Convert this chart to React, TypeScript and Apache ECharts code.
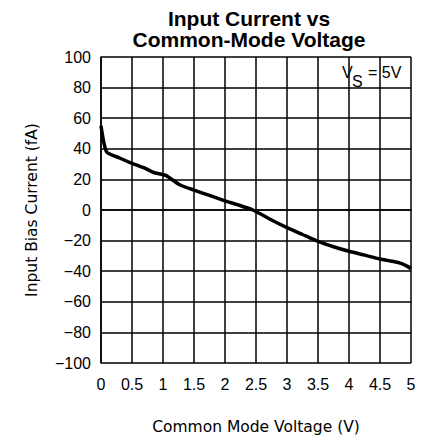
import React, { useEffect, useRef } from "react";
import * as echarts from "echarts";

const titleLines = ["Input Current vs", "Common-Mode Voltage"];
const xAxisName = "Common Mode Voltage (V)";
const yAxisName = "Input Bias Current (fA)";
const xMin = 0;
const xMax = 5;
const xStep = 0.5;
const yMin = -100;
const yMax = 100;
const yStep = 20;

const voltage = [0, 0.09, 0.3, 0.5, 0.7, 0.85, 1.05, 1.27, 1.5, 1.75, 2.0, 2.2, 2.45, 2.75, 3.0, 3.25, 3.5, 3.75, 4.0, 4.25, 4.5, 4.7, 4.85, 4.95, 5.0];
const biasCurrent = [55, 38, 34, 30.5, 27.5, 24.5, 22.5, 16.5, 13, 9.5, 6, 3.5, 0, -6.5, -11.5, -16, -20.5, -24, -27, -29.5, -32, -33.5, -35, -37, -38.5];

const annotationMain = "V";
const annotationSub = "S";
const annotationRest = "= 5V";

export default function App() {
  const ref = useRef<HTMLDivElement>(null);
  useEffect(() => {
    if (!ref.current) return;
    const chart = echarts.init(ref.current, undefined, { renderer: "svg" });
    const tickFont = "'Liberation Sans', Arial, sans-serif";
    const nameFont = "'DejaVu Sans', sans-serif";
    const halo = { fill: "#000", stroke: "#fff", lineWidth: 4, font: `16px ${tickFont}` };
    chart.setOption({
      animation: false,
      backgroundColor: "#fff",
      title: {
        text: titleLines.join("\n"),
        left: 244,
        textAlign: "center",
        top: 3,
        textStyle: {
          fontFamily: tickFont,
          fontWeight: "bold",
          fontSize: 21,
          lineHeight: 21,
          color: "#000",
        },
      },
      grid: { left: 101, right: 11, top: 57, bottom: 73, containLabel: false },
      xAxis: {
        type: "value",
        min: xMin,
        max: xMax,
        interval: xStep,
        name: xAxisName,
        nameLocation: "middle",
        nameGap: 56,
        nameTextStyle: { fontFamily: nameFont, fontSize: 15.5, color: "#000" },
        axisLine: { show: true, lineStyle: { color: "#000", width: 1.5 } },
        axisTick: { show: false },
        axisLabel: { margin: 13, fontFamily: tickFont, fontSize: 16, color: "#000" },
        splitLine: { show: true, lineStyle: { color: "#000", width: 1.5 } },
      },
      yAxis: {
        type: "value",
        min: yMin,
        max: yMax,
        interval: yStep,
        name: yAxisName,
        nameLocation: "middle",
        nameGap: 61,
        nameTextStyle: { fontFamily: nameFont, fontSize: 15.5, color: "#000" },
        axisLine: { show: true, lineStyle: { color: "#000", width: 1.5 } },
        axisTick: { show: false },
        axisLabel: {
          margin: 10,
          fontFamily: tickFont,
          fontSize: 16,
          color: "#000",
          formatter: (v: number) => String(v).replace("-", "\u2212"),
        },
        splitLine: { show: true, lineStyle: { color: "#000", width: 1.5 } },
      },
      graphic: [
        {
          type: "group",
          z: 100,
          children: [
            { type: "text", x: 342, y: 64, style: { ...halo, text: annotationMain } },
            { type: "text", x: 352, y: 73, style: { ...halo, text: annotationSub } },
            { type: "text", x: 368, y: 64, style: { ...halo, text: annotationRest } },
          ],
        },
      ],
      series: [
        {
          type: "line",
          data: voltage.map((v, i) => [v, biasCurrent[i]]),
          showSymbol: false,
          smooth: 0.2,
          lineStyle: { color: "#000", width: 3.5 },
          z: 5,
        },
      ],
    });
    return () => chart.dispose();
  }, []);
  return <div ref={ref} style={{ position: "fixed", left: 0, top: 0, width: 422, height: 440 }} />;
}
